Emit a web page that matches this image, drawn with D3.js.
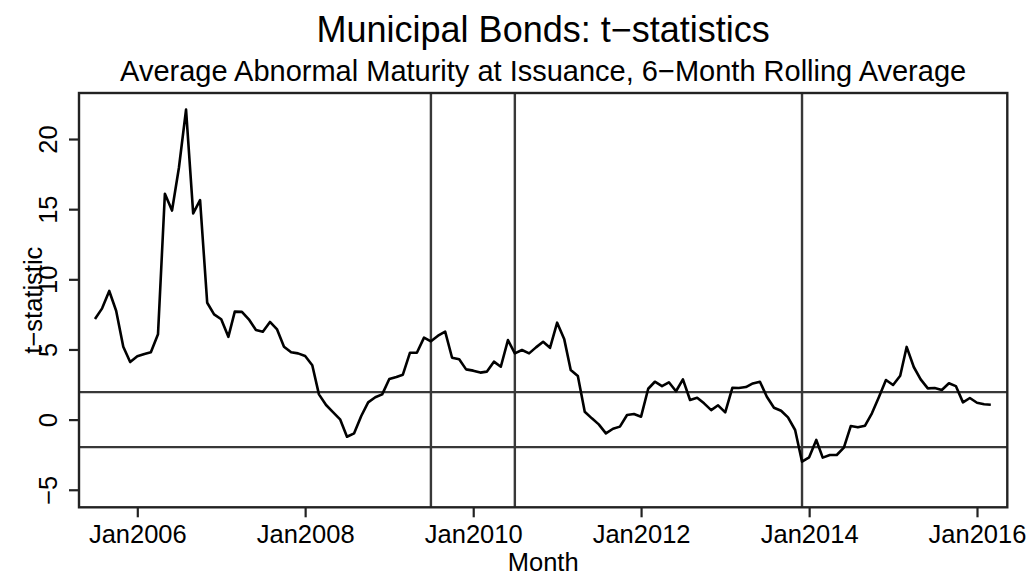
<!DOCTYPE html>
<html>
<head>
<meta charset="utf-8">
<script src="https://cdn.jsdelivr.net/npm/d3@7"></script>
<style>
  body { margin: 0; background: #fff; }
  text { font-family: "Liberation Sans", Arial, Helvetica, sans-serif; fill: #000; }
</style>
</head>
<body>
<div id="wrapper"></div>
<script>
// monthly t-statistics, Jul 2005 .. Mar 2016
const startMonth = "2005-07"
const tstat = [
  7.17, 7.93, 9.17, 7.76, 5.2, 4.1,                                   // 2005
  4.51, 4.68, 4.8, 6.08, 16.1, 14.9, 17.95, 22.1, 14.7, 15.65, 8.33, 7.5, // 2006
  7.15, 5.9, 7.7, 7.68, 7.15, 6.39, 6.27, 6.96, 6.43, 5.2, 4.8, 4.72,  // 2007
  4.53, 3.87, 1.8, 1.04, 0.54, 0.02, -1.22, -0.98, 0.26, 1.23, 1.59, 1.8, // 2008
  2.89, 3.04, 3.2, 4.77, 4.77, 5.84, 5.58, 5.98, 6.27, 4.41, 4.3, 3.58, // 2009
  3.49, 3.35, 3.42, 4.13, 3.77, 5.67, 4.72, 4.96, 4.72, 5.15, 5.55, 5.12, // 2010
  6.91, 5.72, 3.54, 3.11, 0.56, 0.09, -0.34, -0.98, -0.65, -0.5, 0.33, 0.4, // 2011
  0.21, 2.2, 2.7, 2.39, 2.66, 2.02, 2.87, 1.4, 1.56, 1.16, 0.68, 1.02, // 2012
  0.52, 2.27, 2.25, 2.32, 2.58, 2.7, 1.63, 0.85, 0.63, 0.16, -0.74, -3.0, // 2013
  -2.69, -1.45, -2.71, -2.52, -2.52, -2.0, -0.46, -0.55, -0.43, 0.45, 1.63, 2.82, // 2014
  2.47, 3.13, 5.18, 3.75, 2.87, 2.23, 2.25, 2.11, 2.59, 2.39, 1.23, 1.54, // 2015
  1.2, 1.09, 1.06                                                      // 2016
]
const yTicks = [-5, 0, 5, 10, 15, 20]
const xTickYears = [2006, 2008, 2010, 2012, 2014, 2016]
const hLines = [-1.96, 1.96]
const vLines = ["2009-07", "2010-07", "2013-12"]

const parseMonth = d3.timeParse("%Y-%m")
const start = parseMonth(startMonth)
const dat = tstat.map((v, i) => ({ date: d3.timeMonth.offset(start, i), value: v }))

const dim = {
  width: 1034,
  height: 578,
  margin: { top: 93, right: 26.7, bottom: 70.7, left: 79 }
}
dim.bound_width = dim.width - dim.margin.left - dim.margin.right
dim.bound_height = dim.height - dim.margin.top - dim.margin.bottom

const wrapper = d3.select("#wrapper").append("svg")
  .attr("width", dim.width)
  .attr("height", dim.height)

const chart = wrapper.append("g")
  .attr("transform", `translate(${dim.margin.left},${dim.margin.top})`)

// scales (R-style padded limits)
const x_scale = d3.scaleTime()
  .domain([new Date(2006, 0, 1), new Date(2016, 0, 1)])
  .range([58.3, 898])
const y_scale = d3.scaleLinear()
  .domain([-6.25, 23.28])
  .range([dim.bound_height, 0])

const refColor = "#383838"

// reference lines
chart.selectAll(".hline").data(hLines).join("line")
  .attr("x1", 0).attr("x2", dim.bound_width)
  .attr("y1", d => y_scale(d)).attr("y2", d => y_scale(d))
  .attr("stroke", refColor).attr("stroke-width", 2.4)
chart.selectAll(".vline").data(vLines).join("line")
  .attr("x1", d => x_scale(parseMonth(d))).attr("x2", d => x_scale(parseMonth(d)))
  .attr("y1", 0).attr("y2", dim.bound_height)
  .attr("stroke", refColor).attr("stroke-width", 2.4)

// data line
const line = d3.line()
  .x(d => x_scale(d.date))
  .y(d => y_scale(d.value))
chart.append("path")
  .datum(dat)
  .attr("d", line)
  .attr("fill", "none")
  .attr("stroke", "#000")
  .attr("stroke-width", 2.6)
  .attr("stroke-linejoin", "round")

// box
chart.append("rect")
  .attr("width", dim.bound_width).attr("height", dim.bound_height)
  .attr("fill", "none").attr("stroke", "#222").attr("stroke-width", 2.4)

// x axis
const xAxis = d3.axisBottom(x_scale)
  .tickValues(xTickYears.map(y => new Date(y, 0, 1)))
  .tickFormat(d3.timeFormat("%b%Y"))
  .tickSize(10).tickPadding(8)
const gx = chart.append("g")
  .attr("transform", `translate(0,${dim.bound_height})`)
  .call(xAxis)
gx.select(".domain").remove()
gx.selectAll(".tick line").attr("stroke", "#222").attr("stroke-width", 2.2)
gx.selectAll(".tick text")
  .attr("font-size", 25.5).attr("fill", "#000")
  .attr("font-family", "Liberation Sans, Arial, sans-serif")
  .attr("dy", null).attr("y", 36)

// y axis
const yAxis = d3.axisLeft(y_scale)
  .tickValues(yTicks)
  .tickFormat(d => d < 0 ? "\u2212" + Math.abs(d) : d)
  .tickSize(10)
const gy = chart.append("g").call(yAxis)
gy.select(".domain").remove()
gy.selectAll(".tick line").attr("stroke", "#222").attr("stroke-width", 2.2)
gy.selectAll(".tick text")
  .attr("font-size", 25.5).attr("fill", "#000")
  .attr("font-family", "Liberation Sans, Arial, sans-serif")
  .attr("x", null).attr("dy", null)
  .attr("text-anchor", "middle")
  .attr("transform", "translate(-22,0) rotate(-90)")

// labels
wrapper.append("text")
  .attr("x", dim.margin.left + dim.bound_width / 2).attr("y", 42)
  .attr("text-anchor", "middle").attr("font-size", 36)
  .text("Municipal Bonds: t\u2212statistics")
wrapper.append("text")
  .attr("x", dim.margin.left + dim.bound_width / 2).attr("y", 81)
  .attr("text-anchor", "middle").attr("font-size", 29)
  .text("Average Abnormal Maturity at Issuance, 6\u2212Month Rolling Average")
wrapper.append("text")
  .attr("x", dim.margin.left + dim.bound_width / 2).attr("y", 571)
  .attr("text-anchor", "middle").attr("font-size", 25.5)
  .text("Month")
wrapper.append("text")
  .attr("transform", `translate(42,${dim.margin.top + dim.bound_height / 2}) rotate(-90)`)
  .attr("text-anchor", "middle").attr("font-size", 25.5)
  .text("t\u2212statistic")
</script>
</body>
</html>
